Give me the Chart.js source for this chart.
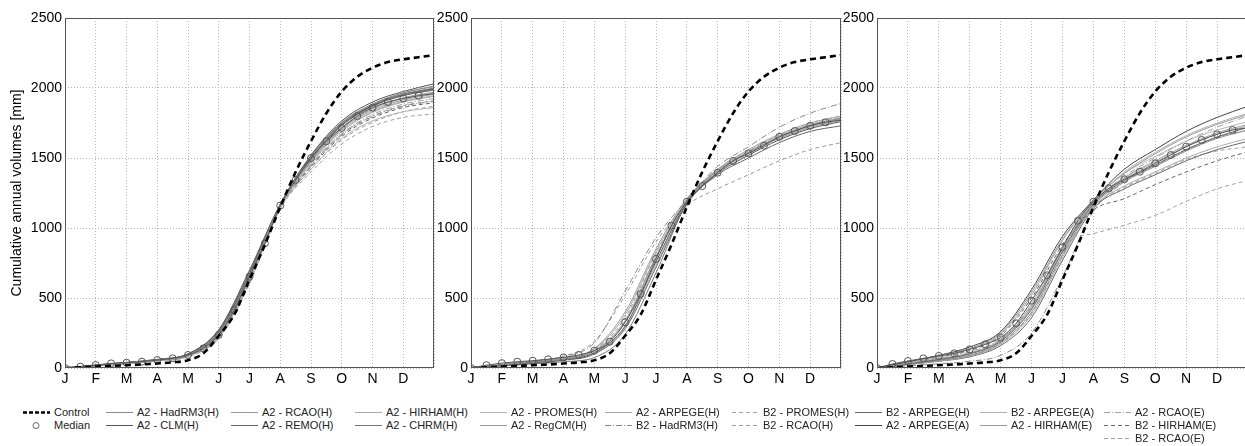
<!DOCTYPE html>
<html>
<head>
<meta charset="utf-8">
<script src="https://cdn.jsdelivr.net/npm/chart.js@4.4.1/dist/chart.umd.min.js"></script>
<style>
  html, body { margin: 0; padding: 0; background: #fff; width: 1245px; height: 446px; overflow: hidden;
    font-family: "Liberation Sans", Arial, sans-serif; }
  canvas.panel { position: absolute; top: 0; }
  .item { position: absolute; height: 14px; line-height: 14px; font-size: 11px; color: #222; white-space: nowrap; }
  .item svg { vertical-align: top; margin-right: 4px; }
</style>
</head>
<body>
<canvas id="p1" class="panel" width="440" height="390" style="left:0px"></canvas>
<canvas id="p2" class="panel" width="425" height="390" style="left:421px"></canvas>
<canvas id="p3" class="panel" width="427" height="390" style="left:827px"></canvas>
<div id="legend"></div>
<script>
const MONTHS = ["J", "F", "M", "A", "M", "J", "J", "A", "S", "O", "N", "D"];
const Y_TICKS = [0, 500, 1000, 1500, 2000, 2500];

// half-month values (J .. end of Dec), same reference in every panel
const control = [0, 5, 10, 15, 20, 25, 32, 40, 55, 105, 230, 380, 630, 880, 1150, 1400, 1620, 1820, 1975, 2080, 2145, 2185, 2205, 2220, 2235];
const median1 = [0, 10, 21, 33, 38, 45, 57, 69, 93, 140, 236, 414, 652, 890, 1160, 1343, 1500, 1620, 1715, 1800, 1860, 1900, 1925, 1945, 1960];
const median2 = [0, 20, 35, 45, 52, 62, 76, 93, 124, 188, 326, 529, 779, 1017, 1188, 1300, 1395, 1479, 1533, 1588, 1652, 1693, 1731, 1755, 1770];
const median3 = [0, 29, 50, 69, 86, 105, 133, 169, 217, 319, 481, 662, 862, 1052, 1188, 1283, 1348, 1402, 1462, 1521, 1581, 1629, 1669, 1700, 1715];

// monthly values for each model run, panel 1
const p1_a2_hadrm3h = [0, 18, 38, 58, 95, 250, 660, 1165, 1500, 1745, 1885, 1965, 2010];
const p1_a2_clmh = [0, 20, 40, 60, 100, 270, 690, 1170, 1520, 1765, 1900, 1975, 2030];
const p1_a2_rcaoh = [0, 17, 35, 55, 90, 240, 650, 1160, 1480, 1715, 1855, 1930, 1970];
const p1_a2_remoh = [0, 19, 37, 57, 92, 245, 655, 1160, 1490, 1730, 1870, 1945, 1985];
const p1_a2_hirhamh = [0, 16, 33, 52, 86, 225, 630, 1150, 1460, 1690, 1825, 1900, 1940];
const p1_a2_chrmh = [0, 21, 40, 62, 102, 275, 700, 1170, 1510, 1750, 1880, 1955, 2000];
const p1_a2_promesh = [0, 15, 31, 50, 82, 215, 615, 1140, 1420, 1640, 1765, 1830, 1860];
const p1_a2_regcmh = [0, 18, 36, 56, 91, 242, 652, 1160, 1480, 1710, 1840, 1915, 1955];
const p1_a2_arpegeh = [0, 17, 34, 54, 88, 235, 640, 1155, 1470, 1700, 1830, 1905, 1945];
const p1_b2_hadrm3h = [0, 16, 32, 51, 84, 220, 620, 1145, 1440, 1665, 1795, 1870, 1905];
const p1_b2_promesh = [0, 14, 30, 48, 80, 210, 600, 1135, 1400, 1600, 1725, 1790, 1815];
const p1_b2_rcaoh = [0, 15, 31, 50, 83, 218, 612, 1140, 1420, 1630, 1755, 1830, 1870];
const p1_b2_arpegeh = [0, 18, 36, 57, 93, 248, 660, 1162, 1495, 1735, 1870, 1950, 1990];
const p1_a2_arpegea = [0, 19, 38, 59, 96, 255, 670, 1165, 1500, 1740, 1875, 1955, 1995];
const p1_b2_arpegea = [0, 17, 34, 55, 89, 238, 645, 1158, 1475, 1710, 1850, 1925, 1965];
const p1_a2_hirhame = [0, 20, 39, 60, 98, 262, 675, 1168, 1515, 1755, 1885, 1965, 2015];
const p1_a2_rcaoe = [0, 16, 33, 52, 86, 228, 635, 1150, 1450, 1675, 1810, 1885, 1925];
const p1_b2_hirhame = [0, 15, 32, 50, 84, 222, 625, 1148, 1435, 1655, 1785, 1860, 1895];
const p1_b2_rcaoe = [0, 16, 33, 52, 85, 224, 628, 1150, 1445, 1670, 1800, 1875, 1910];

// panel 2
const p2_b2_hadrm3h = [0, 25, 50, 80, 180, 550, 930, 1200, 1440, 1580, 1720, 1820, 1890];
const p2_a2_hadrm3h = [0, 22, 42, 62, 120, 330, 790, 1190, 1400, 1540, 1650, 1730, 1780];
const p2_a2_clmh = [0, 20, 40, 60, 110, 300, 760, 1180, 1390, 1520, 1630, 1710, 1760];
const p2_a2_rcaoh = [0, 24, 46, 70, 140, 400, 850, 1210, 1410, 1540, 1640, 1720, 1770];
const p2_a2_remoh = [0, 18, 36, 55, 100, 280, 720, 1170, 1380, 1500, 1610, 1690, 1730];
const p2_a2_hirhamh = [0, 23, 45, 68, 135, 380, 830, 1200, 1420, 1550, 1660, 1740, 1790];
const p2_a2_promesh = [0, 20, 38, 58, 105, 290, 740, 1175, 1400, 1530, 1645, 1725, 1775];
const p2_b2_rcaoh = [0, 26, 52, 85, 190, 520, 900, 1160, 1280, 1380, 1480, 1560, 1610];
const p2_b2_promesh = [0, 22, 44, 66, 130, 360, 820, 1195, 1415, 1550, 1665, 1750, 1800];
const p2_a2_arpegeh = [0, 21, 41, 63, 125, 340, 800, 1200, 1420, 1560, 1670, 1750, 1800];
const p2_a2_chrmh = [0, 15, 30, 45, 75, 240, 680, 1180, 1410, 1540, 1650, 1735, 1785];

// panel 3
const p3_a2_arpegea = [0, 45, 90, 150, 260, 560, 940, 1200, 1420, 1560, 1690, 1790, 1870];
const p3_b2_arpegea = [0, 40, 80, 135, 240, 520, 910, 1190, 1400, 1540, 1660, 1750, 1820];
const p3_a2_hirhame = [0, 42, 85, 140, 250, 540, 920, 1195, 1390, 1530, 1650, 1740, 1810];
const p3_a2_rcaoe = [0, 35, 70, 115, 210, 450, 860, 1180, 1370, 1500, 1620, 1720, 1800];
const p3_b2_hirhame = [0, 38, 78, 125, 230, 500, 880, 1130, 1210, 1310, 1400, 1480, 1545];
const p3_b2_rcaoe = [0, 40, 80, 130, 240, 520, 890, 960, 1020, 1090, 1190, 1280, 1340];
const p3_b2_arpegeh = [0, 30, 60, 100, 190, 420, 830, 1170, 1340, 1450, 1560, 1650, 1720];
const p3_a2_hadrm3h = [0, 28, 55, 90, 180, 400, 810, 1160, 1330, 1440, 1550, 1640, 1700];
const p3_a2_rcaoh = [0, 32, 65, 105, 200, 440, 850, 1180, 1360, 1480, 1590, 1680, 1740];
const p3_a2_hirhamh = [0, 25, 50, 85, 170, 380, 790, 1150, 1300, 1400, 1500, 1580, 1640];
const p3_a2_arpegeh = [0, 30, 62, 102, 195, 430, 840, 1175, 1350, 1470, 1580, 1670, 1730];
const p3_a2_remoh = [0, 24, 48, 80, 160, 360, 770, 1140, 1280, 1380, 1480, 1560, 1620];
const p3_a2_promesh = [0, 33, 66, 108, 205, 460, 870, 1190, 1390, 1510, 1620, 1700, 1760];
const p3_b2_promesh = [0, 26, 52, 88, 175, 390, 800, 1150, 1290, 1390, 1490, 1550, 1580];
const p3_b2_hadrm3h = [0, 15, 30, 48, 90, 250, 650, 1120, 1330, 1450, 1560, 1650, 1700];

// line style per model: colour, dash pattern
const SOLID = [], DASH = [4, 3], DASHDOT = [6, 2, 1, 2];
const STYLE = {
  "A2 - HadRM3(H)": ["#8c8c8c", SOLID],
  "A2 - CLM(H)": ["#555555", SOLID],
  "A2 - RCAO(H)": ["#9a9a9a", SOLID],
  "A2 - REMO(H)": ["#666666", SOLID],
  "A2 - HIRHAM(H)": ["#aaaaaa", SOLID],
  "A2 - CHRM(H)": ["#777777", SOLID],
  "A2 - PROMES(H)": ["#b5b5b5", SOLID],
  "A2 - RegCM(H)": ["#999999", SOLID],
  "A2 - ARPEGE(H)": ["#a5a5a5", SOLID],
  "B2 - HadRM3(H)": ["#888888", DASHDOT],
  "B2 - PROMES(H)": ["#a0a0a0", DASH],
  "B2 - RCAO(H)": ["#999999", DASH],
  "B2 - ARPEGE(H)": ["#666666", SOLID],
  "A2 - ARPEGE(A)": ["#444444", SOLID],
  "B2 - ARPEGE(A)": ["#b0b0b0", SOLID],
  "A2 - HIRHAM(E)": ["#999999", SOLID],
  "A2 - RCAO(E)": ["#a0a0a0", DASHDOT],
  "B2 - HIRHAM(E)": ["#666666", DASH],
  "B2 - RCAO(E)": ["#a0a0a0", DASH],
};

const panel1 = [
  ["A2 - HadRM3(H)", p1_a2_hadrm3h], ["A2 - CLM(H)", p1_a2_clmh], ["A2 - RCAO(H)", p1_a2_rcaoh],
  ["A2 - REMO(H)", p1_a2_remoh], ["A2 - HIRHAM(H)", p1_a2_hirhamh], ["A2 - CHRM(H)", p1_a2_chrmh],
  ["A2 - PROMES(H)", p1_a2_promesh], ["A2 - RegCM(H)", p1_a2_regcmh], ["A2 - ARPEGE(H)", p1_a2_arpegeh],
  ["B2 - HadRM3(H)", p1_b2_hadrm3h], ["B2 - PROMES(H)", p1_b2_promesh], ["B2 - RCAO(H)", p1_b2_rcaoh],
  ["B2 - ARPEGE(H)", p1_b2_arpegeh], ["A2 - ARPEGE(A)", p1_a2_arpegea], ["B2 - ARPEGE(A)", p1_b2_arpegea],
  ["A2 - HIRHAM(E)", p1_a2_hirhame], ["A2 - RCAO(E)", p1_a2_rcaoe], ["B2 - HIRHAM(E)", p1_b2_hirhame],
  ["B2 - RCAO(E)", p1_b2_rcaoe],
];
const panel2 = [
  ["B2 - HadRM3(H)", p2_b2_hadrm3h], ["A2 - HadRM3(H)", p2_a2_hadrm3h], ["A2 - CLM(H)", p2_a2_clmh],
  ["A2 - RCAO(H)", p2_a2_rcaoh], ["A2 - REMO(H)", p2_a2_remoh], ["A2 - HIRHAM(H)", p2_a2_hirhamh],
  ["A2 - PROMES(H)", p2_a2_promesh], ["B2 - RCAO(H)", p2_b2_rcaoh], ["B2 - PROMES(H)", p2_b2_promesh],
  ["A2 - ARPEGE(H)", p2_a2_arpegeh], ["A2 - CHRM(H)", p2_a2_chrmh],
];
const panel3 = [
  ["A2 - ARPEGE(A)", p3_a2_arpegea], ["B2 - ARPEGE(A)", p3_b2_arpegea], ["A2 - HIRHAM(E)", p3_a2_hirhame],
  ["A2 - RCAO(E)", p3_a2_rcaoe], ["B2 - HIRHAM(E)", p3_b2_hirhame], ["B2 - RCAO(E)", p3_b2_rcaoe],
  ["B2 - ARPEGE(H)", p3_b2_arpegeh], ["A2 - HadRM3(H)", p3_a2_hadrm3h], ["A2 - RCAO(H)", p3_a2_rcaoh],
  ["A2 - HIRHAM(H)", p3_a2_hirhamh], ["A2 - ARPEGE(H)", p3_a2_arpegeh], ["A2 - REMO(H)", p3_a2_remoh],
  ["A2 - PROMES(H)", p3_a2_promesh], ["B2 - PROMES(H)", p3_b2_promesh], ["B2 - HadRM3(H)", p3_b2_hadrm3h],
];

// legend columns (rows top to bottom)
const LEGEND_COLS = [
  ["Control", "Median"],
  ["A2 - HadRM3(H)", "A2 - CLM(H)"],
  ["A2 - RCAO(H)", "A2 - REMO(H)"],
  ["A2 - HIRHAM(H)", "A2 - CHRM(H)"],
  ["A2 - PROMES(H)", "A2 - RegCM(H)"],
  ["A2 - ARPEGE(H)", "B2 - HadRM3(H)"],
  ["B2 - PROMES(H)", "B2 - RCAO(H)"],
  ["B2 - ARPEGE(H)", "A2 - ARPEGE(A)"],
  ["B2 - ARPEGE(A)", "A2 - HIRHAM(E)"],
  ["A2 - RCAO(E)", "B2 - HIRHAM(E)", "B2 - RCAO(E)"],
];
const LEGEND_X = [23, 106, 231, 355, 480, 605, 732, 855, 980, 1104];
const LEGEND_Y = [405, 418, 431];

function toPoints(values) {
  const step = 12 / (values.length - 1);
  return values.map((v, i) => ({ x: i * step, y: v }));
}

const framePlugin = {
  id: "frame",
  afterDraw(chart) {
    const { ctx, chartArea: a } = chart;
    ctx.save();
    ctx.strokeStyle = "#555";
    ctx.lineWidth = 1;
    ctx.strokeRect(a.left + 0.5, a.top + 0.5, a.right - a.left - 1, a.bottom - a.top - 1);
    ctx.restore();
  },
};

const FONT = "'Liberation Sans', Arial, sans-serif";

function renderPanel(canvasId, models, median, opts) {
  const datasets = [];

  datasets.push({
    data: toPoints(control),
    borderColor: "#000",
    borderWidth: 2.6,
    borderDash: [6, 4],
    pointRadius: 0,
    cubicInterpolationMode: "monotone",
  });

  datasets.push({
    data: toPoints(median),
    borderColor: "#555",
    borderWidth: 1,
    pointRadius: median.map((v, i) => (i === median.length - 1 ? 0 : 3.5)),
    pointBorderColor: "#555",
    pointBackgroundColor: "rgba(255,255,255,0)",
    pointBorderWidth: 1,
    cubicInterpolationMode: "monotone",
  });

  for (const [name, values] of models) {
    const [color, dash] = STYLE[name];
    datasets.push({
      label: name,
      data: toPoints(values),
      borderColor: color,
      borderWidth: 1,
      borderDash: dash,
      pointRadius: 0,
      cubicInterpolationMode: "monotone",
    });
  }

  new Chart(document.getElementById(canvasId), {
    type: "line",
    data: { datasets },
    plugins: [framePlugin],
    options: {
      responsive: false,
      animation: false,
      devicePixelRatio: 1,
      layout: { padding: { left: 0, right: opts.padRight, top: 18, bottom: 0 } },
      plugins: { legend: { display: false }, tooltip: { enabled: false } },
      scales: {
        x: {
          type: "linear",
          min: 0,
          max: 12,
          afterFit: (s) => { s.height = 22; },
          afterBuildTicks: (s) => { s.ticks = MONTHS.map((m, i) => ({ value: i })).concat([{ value: 12 }]); },
          ticks: {
            autoSkip: false,
            maxRotation: 0,
            padding: 3,
            color: "#000",
            font: { family: FONT, size: 14 },
            callback: (v) => (MONTHS[v] !== undefined ? MONTHS[v] : ""),
          },
          grid: { color: "#b4b4b4", lineWidth: 1, drawTicks: false },
          border: { display: false, dash: [1, 2] },
        },
        y: {
          min: 0,
          max: 2500,
          afterFit: (s) => { s.width = opts.yWidth; },
          afterBuildTicks: (s) => { s.ticks = Y_TICKS.map((v) => ({ value: v })); },
          ticks: {
            padding: 3,
            color: "#000",
            font: { family: FONT, size: 14 },
            callback: (v) => String(v),
          },
          grid: { color: "#b4b4b4", lineWidth: 1, drawTicks: false },
          border: { display: false, dash: [1, 2] },
          title: {
            display: !!opts.yTitle,
            text: opts.yTitle || "",
            color: "#000",
            font: { family: FONT, size: 14 },
            padding: { top: 9, bottom: 0 },
          },
        },
      },
    },
  });
}

renderPanel("p1", panel1, median1, { yWidth: 65, padRight: 6, yTitle: "Cumulative annual volumes [mm]" });
renderPanel("p2", panel2, median2, { yWidth: 50, padRight: 4 });
renderPanel("p3", panel3, median3, { yWidth: 50, padRight: 6 });

// legend built as html so texts stay real text
function sampleSvg(name) {
  const svg = ['<svg width="27" height="14" viewBox="0 0 27 14">'];
  if (name === "Control") {
    svg.push('<line x1="0" y1="7.5" x2="27" y2="7.5" stroke="#000" stroke-width="2.4" stroke-dasharray="4,2"/>');
  } else if (name === "Median") {
    svg.push('<circle cx="13" cy="7.5" r="3" fill="none" stroke="#666" stroke-width="1"/>');
  } else {
    const [color, dash] = STYLE[name];
    const da = dash.length ? ' stroke-dasharray="' + dash.join(",") + '"' : "";
    svg.push('<line x1="0" y1="7.5" x2="27" y2="7.5" stroke="' + color + '" stroke-width="1"' + da + "/>");
  }
  svg.push("</svg>");
  return svg.join("");
}

const legend = document.getElementById("legend");
LEGEND_COLS.forEach((col, c) => {
  col.forEach((name, r) => {
    const div = document.createElement("div");
    div.className = "item";
    div.style.left = LEGEND_X[c] + "px";
    div.style.top = LEGEND_Y[r] + "px";
    div.innerHTML = sampleSvg(name) + "<span>" + name + "</span>";
    legend.appendChild(div);
  });
});
</script>
</body>
</html>
